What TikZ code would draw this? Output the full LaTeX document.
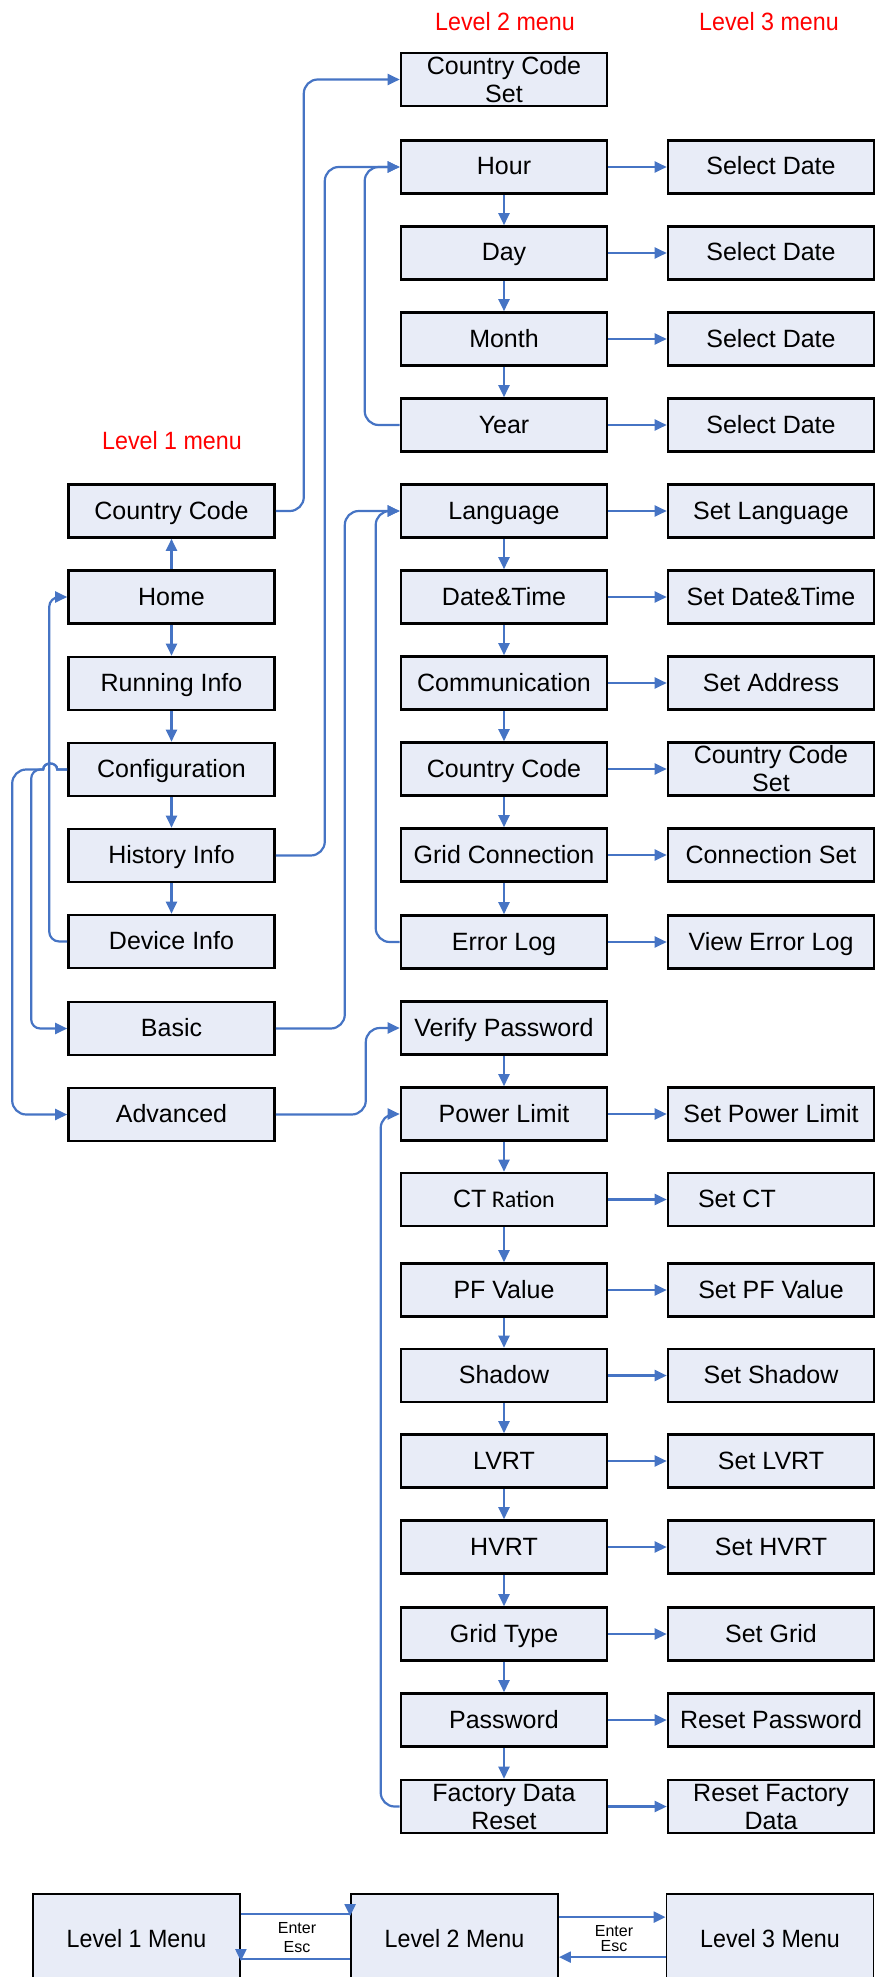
\documentclass[tikz,border=0pt]{standalone}
\usepackage{fontspec}
\setmainfont{Liberation Sans}
\newfontfamily\narrowfont[FakeStretch=0.93]{Liberation Sans}
\newfontfamily\calfont{Carlito}
\usetikzlibrary{arrows.meta,calc}
\definecolor{boxfill}{RGB}{232,236,247}
\definecolor{linkblue}{RGB}{70,116,196}
\tikzset{
  box/.style={draw=black, line width=2.6pt, fill=boxfill, minimum width=206pt, minimum height=53pt,
    inner sep=1pt, align=center, font=\fontsize{25}{28}\selectfont},
  one/.style={box, text height=18pt, text depth=2pt},
  lgbox/.style={draw=black, line width=1.8pt, fill=boxfill, minimum width=207pt, minimum height=90pt,
    inner sep=1pt, font=\narrowfont\fontsize{25}{28}\selectfont},
  conn/.style={draw=linkblue, line width=2.2pt, -{Triangle[length=12pt,width=11pt]}},
  lvl/.style={text=red, inner sep=0pt, font=\narrowfont\fontsize{25}{28}\selectfont},
  small/.style={inner sep=0pt, align=center, font=\fontsize{16}{19}\selectfont},
}
\begin{document}
\begin{tikzpicture}[x=1pt,y=-1pt]
\useasboundingbox (0,0) rectangle (875,1977);
\clip (0,0) rectangle (875,1977);

% headings
\node[lvl] (h1) at (172,441) {Level 1 menu};
\node[lvl] (h2) at (505,22) {Level 2 menu};
\node[lvl] (h3) at (769,22) {Level 3 menu};

% level 1
\node[one] (cc1)   at (171.5,511)   {Country Code};
\node[one] (home)  at (171.5,597)   {Home};
\node[one] (run)   at (171.5,683.5) {Running Info};
\node[one] (conf)  at (171.5,769.5) {Configuration};
\node[one] (hist)  at (171.5,855.5) {History Info};
\node[one] (dev)   at (171.5,941.5) {Device Info};
\node[one] (basic) at (171.5,1028.5){Basic};
\node[one] (adv)   at (171.5,1114.5){Advanced};

% level 2
\node[box] (ccset) at (504,79.5)  {Country Code\\Set};
\node[one] (hour)  at (504,167)   {Hour};
\node[one] (day)   at (504,253)   {Day};
\node[one] (month) at (504,339)   {Month};
\node[one] (year)  at (504,425)   {Year};
\node[one] (lang)  at (504,511)   {Language};
\node[one] (dt)    at (504,597)   {Date\&Time};
\node[one] (comm)  at (504,683)   {Communication};
\node[one] (cc2)   at (504,769)   {Country Code};
\node[one] (grid)  at (504,855)   {Grid Connection};
\node[one] (err)   at (504,942)   {Error Log};
\node[one] (vp)    at (504,1028)  {Verify Password};
\node[one] (pl)    at (504,1114)  {Power Limit};
\node[one] (ct)    at (504,1199.5){CT{\calfont\fontsize{24}{28}\selectfont{} Ration}};
\node[one] (pf)    at (504,1290)  {PF Value};
\node[one] (sh)    at (504,1375.5){Shadow};
\node[one] (lvrt)  at (504,1461)  {LVRT};
\node[one] (hvrt)  at (504,1547)  {HVRT};
\node[one] (gt)    at (504,1634)  {Grid Type};
\node[one] (pw)    at (504,1720)  {Password};
\node[box] (fdr)   at (504,1806.5){Factory Data\\Reset};

% level 3
\node[one] (sd1)   at (771,167)   {Select Date};
\node[one] (sd2)   at (771,253)   {Select Date};
\node[one] (sd3)   at (771,339)   {Select Date};
\node[one] (sd4)   at (771,425)   {Select Date};
\node[one] (slang) at (771,511)   {Set Language};
\node[one] (sdt)   at (771,597)   {Set Date\&Time};
\node[one] (sadr)  at (771,683)   {Set Address};
\node[box] (sccs)  at (771,769)   {Country Code\\Set};
\node[one] (scon)  at (771,855)   {Connection Set};
\node[one] (verr)  at (771,942)   {View Error Log};
\node[one] (spl)   at (771,1114)  {Set Power Limit};
\node[one] (sct)   at (771,1199.5){\makebox[146pt][l]{Set CT}};
\node[one] (spf)   at (771,1290)  {Set PF Value};
\node[one] (ssh)   at (771,1375.5){Set Shadow};
\node[one] (slvrt) at (771,1461)  {Set LVRT};
\node[one] (shvrt) at (771,1547)  {Set HVRT};
\node[one] (sgrid) at (771,1634)  {Set Grid};
\node[one] (rpw)   at (771,1720)  {Reset Password};
\node[box] (rfd)   at (771,1806.5){Reset Factory\\Data};

% level 1 vertical links
\draw[conn] (home.north) -- (cc1.south);
\draw[conn] (home.south) -- (run.north);
\draw[conn] (run.south) -- (conf.north);
\draw[conn] (conf.south) -- (hist.north);
\draw[conn] (hist.south) -- (dev.north);

% level 2 vertical links
\foreach \a/\b in {hour/day,day/month,month/year,lang/dt,dt/comm,comm/cc2,cc2/grid,grid/err,
  vp/pl,pl/ct,ct/pf,pf/sh,sh/lvrt,lvrt/hvrt,hvrt/gt,gt/pw,pw/fdr}
  \draw[conn] (\a.south) -- (\b.north);

% level 2 -> level 3
\foreach \a/\b in {hour/sd1,day/sd2,month/sd3,year/sd4,lang/slang,dt/sdt,comm/sadr,cc2/sccs,
  grid/scon,err/verr,pl/spl,ct/sct,pf/spf,sh/ssh,lvrt/slvrt,hvrt/shvrt,gt/sgrid,pw/rpw,fdr/rfd}
  \draw[conn] (\a.east) -- (\b.west);

% level 1 -> level 2
\draw[conn, rounded corners=14pt] (cc1.east) -- ([xshift=28pt]cc1.east) |- (ccset.west);
\draw[conn, rounded corners=14pt] (hist.east) -- ([xshift=49pt]hist.east) |- (hour.west);
\draw[conn, rounded corners=14pt] (basic.east) -- ([xshift=69pt]basic.east) |- (lang.west);
\draw[conn, rounded corners=14pt] (adv.east) -- ([xshift=90pt]adv.east) |- (vp.west);

% loops in level 2
\draw[conn, rounded corners=14pt] (year.west) -- ([xshift=-35pt]year.west) |- (hour.west);
\draw[conn, rounded corners=14pt] (err.west) -- ([xshift=-24pt]err.west) |- (lang.west);
\draw[conn, rounded corners=14pt] (fdr.west) -- ([xshift=-19pt]fdr.west) |- (pl.west);

% loops in level 1
\draw[conn, rounded corners=10pt] (dev.west) -- ([xshift=-18pt]dev.west) |- (home.west);
\draw[conn] (conf.west) -- ++(-10,0) .. controls +(0,-8) and +(0,-8) .. ++(-14,0)
  [rounded corners=9pt] -- ++(-12,0) |- (basic.west);
\draw[conn] (conf.west) -- ++(-10,0) .. controls +(0,-8) and +(0,-8) .. ++(-14,0)
  [rounded corners=14pt] -- ++(-31,0) |- (adv.west);

% legend
\node[lgbox] (lm1) at (136.5,1939) {Level 1 Menu};
\node[lgbox] (lm2) at (454.5,1939) {Level 2 Menu};
\node[lgbox] (lm3) at (770,1939)   {Level 3 Menu};
\draw[conn] ([yshift=-21pt]lm1.north east) -- ([yshift=-21pt]lm2.north west) -- ([yshift=-23pt]lm2.north west);
\draw[conn] ([yshift=-66pt]lm2.north west) -- ([yshift=-66pt]lm1.north east) -- ([yshift=-68pt]lm1.north east);
\draw[conn] ([yshift=-24pt]lm2.north east) -- ([yshift=-24pt]lm3.north west);
\draw[conn] ([yshift=-64pt]lm3.north west) -- ([yshift=-64pt]lm2.north east);
\node[small] (ee1) at (297,1937.5) {Enter\\Esc};
\node[small, font=\fontsize{16}{15}\selectfont] (ee2) at (614,1938.5) {Enter\\Esc};
\end{tikzpicture}
\end{document}
